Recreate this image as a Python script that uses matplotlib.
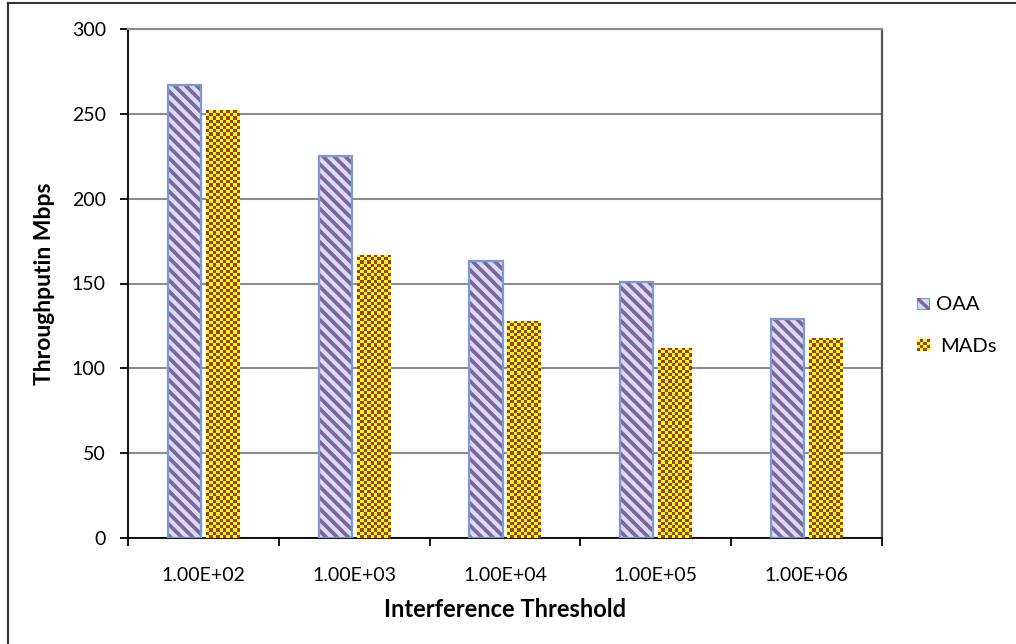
import numpy as np
import matplotlib
matplotlib.use("Agg")
import matplotlib.pyplot as plt
from matplotlib.lines import Line2D
from matplotlib.patches import Rectangle

plt.rcParams['font.family'] = ['Lato', 'DejaVu Sans']
plt.rcParams['hatch.linewidth'] = 2.7

# throughput per interference threshold
thresholds = ['1.00E+02', '1.00E+03', '1.00E+04', '1.00E+05', '1.00E+06']
oaa = [267, 225, 163, 151, 129]
mads = [252, 167, 128, 112, 118]

STRIPE_FILL = '#D7DCF0'
STRIPE_LINE = '#8064A2'
STRIPE_EDGE = '#7A9BD2'
CHECK_A = '#FFFF00'
CHECK_B = '#A33A2E'

fig = plt.figure(figsize=(10.16, 6.44), dpi=100)
ax = fig.add_axes([128 / 1016, 1 - 538 / 644, 754 / 1016, 509 / 644])

x = np.arange(len(thresholds))
w = 0.219
off = 0.126

ax.set_xlim(-0.5, len(thresholds) - 0.5)
ax.set_ylim(0, 300)

# striped bars: hatch layer, then the blue outline on top
ax.bar(x - off, oaa, w, facecolor=STRIPE_FILL, edgecolor=STRIPE_LINE,
       linewidth=0, hatch='\\\\\\', zorder=3)
ax.bar(x - off, oaa, w, facecolor='none', edgecolor=STRIPE_EDGE,
       linewidth=1.6, zorder=4)
b2 = ax.bar(x + off, mads, w, facecolor=CHECK_A, edgecolor='none', zorder=3)


def checker(nx, ny):
    a = (np.add.outer(np.arange(ny), np.arange(nx)) % 2).astype(float)
    return a


cmap = matplotlib.colors.ListedColormap([CHECK_A, CHECK_B])
fig.canvas.draw()
for r in b2:
    bx, by = r.get_x(), r.get_y()
    bw, bh = r.get_width(), r.get_height()
    (px0, py0), (px1, py1) = ax.transData.transform([(bx, by), (bx + bw, by + bh)])
    nx = max(1, int(round((px1 - px0) / 3.2)))
    ny = max(1, int(round((py1 - py0) / 3.2)))
    im = ax.imshow(checker(nx, ny), cmap=cmap, vmin=0, vmax=1,
                   extent=(bx, bx + bw, by, by + bh), origin='lower',
                   interpolation='nearest', aspect='auto', zorder=3.5)
    im.set_clip_path(r)
ax.set_xlim(-0.5, len(thresholds) - 0.5)
ax.set_ylim(0, 300)

ax.set_yticks(np.arange(0, 301, 50))
ax.yaxis.grid(True, color='#8C8C8C', linewidth=1.5, zorder=0)
ax.set_axisbelow(True)

ax.set_xticks(x)
ax.set_xticklabels(thresholds)
ax.set_xticks(np.arange(-0.5, len(thresholds)), minor=True)
ax.tick_params(axis='x', which='major', length=0, pad=21, labelsize=14)
ax.tick_params(axis='x', which='minor', length=6, width=1.3, direction='out')
ax.tick_params(axis='y', length=6, width=1.3, direction='out', pad=10, labelsize=14)

for s in ['left', 'bottom']:
    ax.spines[s].set_color('black')
    ax.spines[s].set_linewidth(1.3)
ax.spines['right'].set_color('#555555')
ax.spines['right'].set_linewidth(1.6)
ax.spines['top'].set_color('#8C8C8C')
ax.spines['top'].set_linewidth(1.5)

ax.set_xlabel('Interference Threshold', fontsize=17, fontweight='bold', labelpad=10)
ax.set_ylabel('Throughputin Mbps', fontsize=16.5, fontweight='bold', labelpad=12)

# legend swatches drawn by hand
fx = lambda p: p / 1016
fy = lambda p: 1 - p / 644
sw1 = fig.add_axes([fx(917), fy(310), fx(13), 12 / 644])
sw1.set_axis_off()
sw1.add_patch(Rectangle((0, 0), 1, 1, facecolor=STRIPE_FILL, edgecolor='none'))
sw1.plot([0, 1], [1, 0], color=STRIPE_LINE, linewidth=2.5, solid_capstyle='butt')
sw1.add_patch(Rectangle((0, 0), 1, 1, facecolor='none', edgecolor=STRIPE_EDGE,
                        linewidth=1.6))
sw1.set_xlim(0, 1)
sw1.set_ylim(0, 1)
sw2 = fig.add_axes([fx(917), fy(351), fx(13), 12 / 644])
sw2.set_axis_off()
sw2.imshow(checker(4, 4), cmap=cmap, vmin=0, vmax=1, interpolation='nearest',
           aspect='auto')
fig.text(fx(936), fy(304), 'OAA', fontsize=14.5, va='center', ha='left')
fig.text(fx(940), fy(346), 'MADs', fontsize=14.5, va='center', ha='left')

# outer frame
fig.add_artist(Line2D([fx(8), fx(8)], [0, fy(3)], color='#333333', linewidth=1.5))
fig.add_artist(Line2D([fx(8), 1], [fy(3), fy(3)], color='#333333', linewidth=1.5))

fig.savefig('out.png', dpi=100)
